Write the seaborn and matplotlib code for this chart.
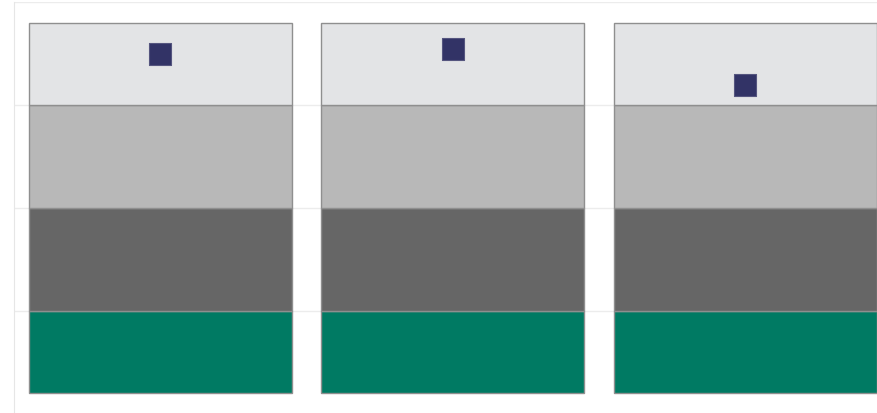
import numpy as np
import pandas as pd
import seaborn as sns
import matplotlib.pyplot as plt

# three panels, each with the same qualitative bands and one measured value
panels = ["A", "B", "C"]
band_low = [0.2, 1.0, 2.0, 3.0]
band_high = [1.0, 2.0, 3.0, 3.8]
band_colors = ["#007a63", "#666666", "#b8b8b8", "#e3e4e6"]
values = [3.50, 3.54, 3.19]

sns.set_style("white")
fig = plt.figure(figsize=(8.77, 4.14), dpi=100)
# axes deliberately runs past the right/bottom edge like the reference crop
ax = fig.add_axes([14 / 877, -1 / 414, 877.5 / 877, 412 / 414])

for lo, hi, col in zip(band_low, band_high, band_colors):
    df = pd.DataFrame({"panel": panels, "height": [hi - lo] * len(panels)})
    sns.barplot(data=df, x="panel", y="height", bottom=lo, color=col,
                saturation=1, width=0.9, edgecolor="#8f8f8f", linewidth=1,
                ax=ax, zorder=2)

mk = pd.DataFrame({"panel": panels, "value": values})
sns.scatterplot(data=mk, x="panel", y="value", marker="s", s=250,
                color="#323366", edgecolor="#55557f", linewidth=0.8,
                ax=ax, zorder=3, legend=False)

ax.set_xlim(-0.5, 2.5)
ax.set_ylim(0, 4)
ax.set_yticks([1, 2, 3, 4])
ax.grid(axis="y", color="#ececec", linewidth=1, zorder=0)
ax.set_axisbelow(True)
ax.tick_params(left=False, bottom=False, labelleft=False, labelbottom=False)
ax.set_xlabel("")
ax.set_ylabel("")
for side in ["top", "right", "bottom"]:
    ax.spines[side].set_visible(False)
ax.spines["left"].set_color("#e6e6e6")

fig.savefig("out.png", dpi=100)
